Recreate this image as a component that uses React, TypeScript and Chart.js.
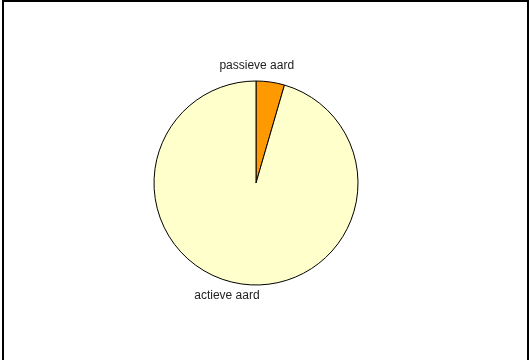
import React, { useEffect, useRef } from "react";
import { Chart, registerables } from "chart.js";

Chart.register(...registerables);

const categories = ["passieve aard", "actieve aard"];
const values = [4.5, 95.5];
const colors = ["#FF9900", "#FFFFCC"];
// per-label pixel shift relative to the slice's outer mid point
const labelShifts = [
  [-13.6, -16.5],
  [-14.7, 11.5],
];

const sliceLabels = {
  id: "sliceLabels",
  afterDatasetsDraw(chart: any) {
    const ctx = chart.ctx;
    const meta = chart.getDatasetMeta(0);
    ctx.save();
    ctx.font = '12px "Liberation Sans", Arial, sans-serif';
    ctx.fillStyle = "#222222";
    ctx.textAlign = "center";
    ctx.textBaseline = "middle";
    meta.data.forEach((arc: any, i: number) => {
      const { x, y, startAngle, endAngle, outerRadius } = arc.getProps(
        ["x", "y", "startAngle", "endAngle", "outerRadius"],
        true
      );
      const mid = (startAngle + endAngle) / 2;
      const px = x + Math.cos(mid) * outerRadius + labelShifts[i][0];
      const py = y + Math.sin(mid) * outerRadius + labelShifts[i][1];
      ctx.fillText(categories[i], px, py);
    });
    ctx.restore();
  },
};

export default function App() {
  const ref = useRef<HTMLCanvasElement | null>(null);
  useEffect(() => {
    document.body.style.margin = "0";
    if (!ref.current) return;
    const chart = new Chart(ref.current, {
      type: "pie",
      data: {
        labels: categories,
        datasets: [
          {
            data: values,
            backgroundColor: colors,
            borderColor: "#000000",
            borderWidth: 1,
          },
        ],
      },
      options: {
        animation: false,
        responsive: false,
        maintainAspectRatio: false,
        layout: { padding: { left: 153.5, right: 171.5, top: 80.5, bottom: 74.5 } },
        plugins: {
          legend: { display: false },
          tooltip: { enabled: false },
          title: { display: false },
        },
      },
      plugins: [sliceLabels],
    });
    return () => chart.destroy();
  }, []);
  return (
    <div style={{ position: "relative", width: 530, height: 360, background: "#fff", overflow: "hidden" }}>
      <canvas ref={ref} width={530} height={360} style={{ position: "absolute", left: 0, top: 0 }} />
      <div
        style={{
          position: "absolute",
          left: 2,
          top: 0,
          width: 527,
          height: 370,
          boxSizing: "border-box",
          borderLeft: "2px solid #000",
          borderTop: "2px solid #000",
          borderRight: "2px solid #000",
          pointerEvents: "none",
        }}
      />
    </div>
  );
}
